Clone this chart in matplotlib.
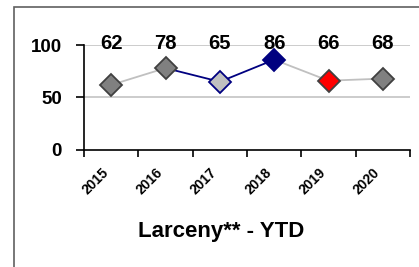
import matplotlib
matplotlib.use("Agg")
import matplotlib.pyplot as plt
from matplotlib.patches import Rectangle
from matplotlib.transforms import ScaledTranslation

years = ["2015", "2016", "2017", "2018", "2019", "2020"]
values = [62, 78, 65, 86, 66, 68]
marker_fill = ["#808080", "#808080", "#c0c0c0", "#000080", "#ff0000", "#808080"]
marker_edge = ["#404040", "#404040", "#000080", "#000080", "#404040", "#404040"]
title = "Larceny** - YTD"

plt.rcParams['font.family'] = ['Liberation Sans', 'DejaVu Sans']

fig = plt.figure(figsize=(4.19, 2.67), dpi=100)
fig.patches.append(Rectangle((14/419, -0.05), 1.2, 1 - 7/267 + 0.05, transform=fig.transFigure,
                             fill=False, edgecolor="#606060", linewidth=1.2))
ax = fig.add_axes([84/419, 1 - 150/267, (410 - 84)/419, (150 - 45)/267])

x = list(range(len(years)))
seg_colors = ["#c0c0c0", "#000080", "#000080", "#c0c0c0", "#c0c0c0"]
for i in range(len(x) - 1):
    ax.plot(x[i:i+2], values[i:i+2], color=seg_colors[i], lw=1.3, zorder=2)
for i in x:
    ax.plot(x[i], values[i], marker="D", ms=11.5, mfc=marker_fill[i], mec=marker_edge[i], mew=1.3, zorder=3)
    ax.text(x[i], 101, str(values[i]), ha="center", va="center", fontsize=14.5, fontweight="bold")

ax.set_xlim(-0.5, len(years) - 0.5)
ax.set_ylim(0, 100)
ax.set_yticks([0, 50, 100])
ax.set_yticklabels(["0", "50", "100"], fontsize=13.5, fontweight="bold")
ax.set_xticks(x)
ax.set_xticklabels(years, rotation=45, ha="right", va="top", fontsize=10, fontweight="bold")
off = ScaledTranslation(-10/100, 0, fig.dpi_scale_trans)
for lab in ax.get_xticklabels():
    lab.set_transform(lab.get_transform() + off)
ax.set_xticks([i - 0.5 for i in range(len(years) + 1)], minor=True)
ax.tick_params(axis="x", which="major", length=0, pad=11)
ax.tick_params(axis="x", which="minor", length=5, width=1.2)
ax.tick_params(axis="y", length=6, width=1.2, pad=10)
for y in [50, 100]:
    ax.axhline(y, color="#c8c8c8", lw=1.3, zorder=1)
ax.spines["top"].set_visible(False)
ax.spines["right"].set_visible(False)
ax.spines["left"].set_linewidth(1.2)
ax.spines["bottom"].set_linewidth(1.2)

fig.text(221/419, 1 - 231/267, title, ha="center", va="center", fontsize=16, fontweight="bold")

fig.savefig("out.png", dpi=100)
